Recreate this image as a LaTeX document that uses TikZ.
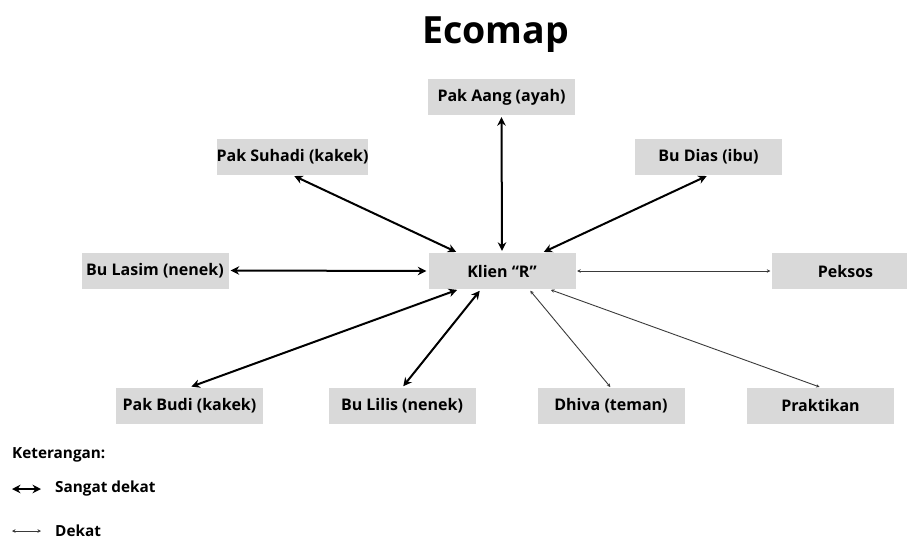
\documentclass[tikz,border=0pt]{standalone}
\usepackage{fontspec}
\setmainfont{Open Sans}
\usepackage{tikz}
\usetikzlibrary{arrows.meta}

\definecolor{boxgray}{HTML}{D9D9D9}
\definecolor{thingray}{HTML}{3A3A3A}

\begin{document}
\begin{tikzpicture}[x=1pt,y=-1pt,
    box/.style={fill=boxgray,minimum width=147pt,minimum height=36pt,inner sep=0pt,
                font=\fontsize{16}{19}\selectfont\bfseries},
    closeline/.style={line width=2pt,{Stealth[length=8.5pt,width=8.5pt]}-{Stealth[length=8.5pt,width=8.5pt]}},
    nearline/.style={line width=0.9pt,color=thingray,{Stealth[length=3.5pt,width=3.5pt]}-{Stealth[length=3.5pt,width=3.5pt]}},
    legend/.style={anchor=west,inner sep=0pt,font=\fontsize{15.3}{18}\selectfont\bfseries}]

    \useasboundingbox (0,0) rectangle (907,541);
    \clip (0,0) rectangle (907,541);

    \node (title) at (495.5,43) [anchor=base,inner sep=0pt,font=\fontsize{37.5}{40}\selectfont\bfseries] {Ecomap};

    \node (aang) at (501.5,97) [box] {Pak Aang (ayah)};
    \node (suhadi) at (292.5,157) [box] {Pak Suhadi (kakek)};
    \node (dias) at (708.5,157) [box] {Bu Dias (ibu)};
    \node (lasim) at (155,270.5) [box] {Bu Lasim (nenek)};
    \node (klien) at (502,271) [box] {Klien ``R''};
    \node (peksos) at (845.5,271) [box] {Peksos};
    \node (budi) at (189.5,405.5) [box] {Pak Budi (kakek)};
    \node (lilis) at (402,406) [box] {Bu Lilis (nenek)};
    \node (dhiva) at (611,406) [box] {Dhiva (teman)};
    \node (praktikan) at (820.5,405.5) [box] {Praktikan};

    % sangat dekat
    \draw[closeline,shorten <=2pt,shorten >=2pt] (aang.south) -- (klien.north);
    \draw[closeline,shorten <=2pt,shorten >=2pt] (suhadi.south) -- ([xshift=-44pt]klien.north);
    \draw[closeline,shorten <=2pt,shorten >=2pt] (dias.south) -- ([xshift=40pt]klien.north);
    \draw[closeline,shorten <=2pt,shorten >=2pt] (lasim.east) -- (klien.west);
    \draw[closeline,shorten <=2pt,shorten >=2pt] (budi.north) -- ([xshift=-43pt]klien.south);
    \draw[closeline,shorten <=2pt,shorten >=2pt] (lilis.north) -- ([xshift=-21pt]klien.south);

    % dekat
    \draw[nearline,shorten <=1.5pt,shorten >=1.5pt] (klien.east) -- (peksos.west);
    \draw[nearline,shorten <=2pt,shorten >=1pt] ([xshift=27pt]klien.south) -- (dhiva.north);
    \draw[nearline,shorten <=2pt,shorten >=1pt] ([xshift=47pt]klien.south) -- (praktikan.north);

    % keterangan
    \node (ket) at (12,455) [legend] {Keterangan:};
    \coordinate (sda) at (12,489);
    \coordinate (sdb) at (41,489);
    \draw[closeline] (sda) -- (sdb);
    \node (sangat) at (55,489) [legend] {Sangat dekat};
    \coordinate (dka) at (12,531);
    \coordinate (dkb) at (41,531);
    \draw[nearline] (dka) -- (dkb);
    \node (dekat) at (55,531) [legend] {Dekat};

\end{tikzpicture}
\end{document}
